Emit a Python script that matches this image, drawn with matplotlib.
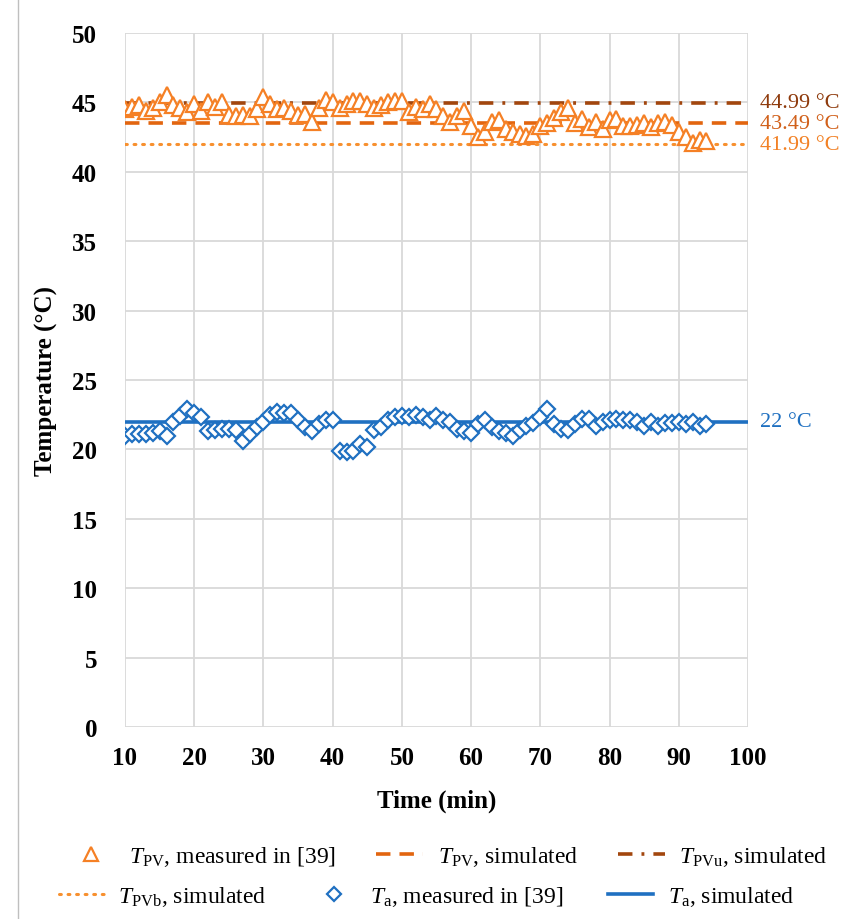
import numpy as np
import matplotlib.pyplot as plt
from matplotlib.lines import Line2D

plt.rcParams['font.family'] = ['Liberation Serif', 'DejaVu Serif']
plt.rcParams['mathtext.fontset'] = 'custom'
plt.rcParams['mathtext.rm'] = 'Liberation Serif'
plt.rcParams['mathtext.it'] = 'Liberation Serif:italic'

# measured data, one point per minute
time = np.arange(10, 95)
t_pv = [44.5, 44.7, 44.8, 44.4, 44.6, 45.0, 45.5, 44.8, 44.6, 44.3,
        44.9, 44.4, 45.0, 44.7, 45.0, 44.1, 44.0, 44.1, 44.0, 44.5,
        45.4, 44.9, 44.5, 44.6, 44.4, 44.1, 44.2, 43.6, 44.6, 45.2,
        45.0, 44.6, 44.9, 45.1, 45.1, 44.9, 44.6, 44.8, 45.0, 45.1,
        45.1, 44.3, 44.7, 44.5, 44.9, 44.5, 44.0, 43.6, 44.0, 44.4,
        43.3, 42.5, 42.9, 43.6, 43.7, 43.1, 42.9, 42.7, 42.6, 42.7,
        43.3, 43.5, 43.9, 44.3, 44.6, 43.5, 43.8, 43.2, 43.6, 43.1,
        43.7, 43.8, 43.3, 43.3, 43.4, 43.5, 43.2, 43.5, 43.6, 43.4,
        42.9, 42.5, 42.1, 42.3, 42.2]
t_a = [21.0, 21.1, 21.1, 21.1, 21.2, 21.3, 21.0, 22.0, 22.4, 22.9,
       22.6, 22.3, 21.3, 21.4, 21.5, 21.5, 21.4, 20.6, 21.1, 21.6,
       22.0, 22.5, 22.7, 22.6, 22.6, 22.1, 21.6, 21.3, 21.8, 22.1,
       22.1, 19.9, 19.8, 19.9, 20.4, 20.2, 21.4, 21.6, 22.1, 22.3,
       22.4, 22.3, 22.5, 22.3, 22.1, 22.4, 22.1, 22.0, 21.5, 21.3,
       21.2, 21.8, 22.1, 21.6, 21.3, 21.2, 21.0, 21.4, 21.7, 21.9,
       22.3, 22.9, 21.8, 21.5, 21.4, 21.8, 22.2, 22.2, 21.7, 22.0,
       22.1, 22.2, 22.1, 22.1, 22.0, 21.7, 22.0, 21.7, 21.9, 21.9,
       22.0, 21.8, 22.0, 21.7, 21.8]

# simulated constant values
sim_time = [10, 100]
sim_pv = 43.49
sim_pvu = 44.99
sim_pvb = 41.99
sim_a = 22.0

c_tri = '#F58025'
c_pv = '#E2650F'
c_pvu = '#A2460E'
c_pvb = '#F7902F'
c_blue = '#1F70C1'

fig = plt.figure(figsize=(8.53, 9.2), dpi=100)
ax = fig.add_axes([125 / 853, 1 - 728 / 920, 623 / 853, 694 / 920])

ls_pv = (0, (4, 2.5))
ls_pvu = (0, (4, 2.5, 0.8, 2.5))
ls_pvb = (0, (0.6, 2.2))

ax.plot(sim_time, [sim_pvb] * 2, color=c_pvb, lw=2.2, ls=ls_pvb,
        dash_capstyle='round', zorder=2)
ax.plot(sim_time, [sim_pv] * 2, color=c_pv, lw=2.6, ls=ls_pv, zorder=2)
ax.plot(sim_time, [sim_pvu] * 2, color=c_pvu, lw=2.6, ls=ls_pvu, zorder=2)
ax.plot(sim_time, [sim_a] * 2, color=c_blue, lw=2.6, zorder=2)

ax.plot(time, t_pv, ls='none', marker='^', ms=11, mfc='white', mec=c_tri, mew=1.6, zorder=3)
ax.plot(time, t_a, ls='none', marker='D', ms=8, mfc='white', mec=c_blue, mew=1.6, zorder=3)

ax.set_xlim(10, 100)
ax.set_ylim(0, 50)
ax.set_xticks(np.arange(10, 101, 10))
ax.set_yticks(np.arange(0, 51, 5))
ax.grid(True, color='#d9d9d9', lw=1.3, zorder=0)
ax.set_axisbelow(True)
for s in ax.spines.values():
    s.set_visible(False)
ax.tick_params(length=0, labelsize=18)
ax.tick_params(axis='y', pad=20)
ax.tick_params(axis='x', pad=14)
for lab in ax.get_xticklabels() + ax.get_yticklabels():
    lab.set_fontweight('bold')
ax.set_xlabel('Time (min)', fontsize=18, fontweight='bold', labelpad=14)
ax.set_ylabel('Temperature (°C)', fontsize=18, fontweight='bold', labelpad=10)

ax.text(101.8, sim_pvu, '44.99 °C', color='#8E3A0C', fontsize=16, va='center')
ax.text(101.8, sim_pv, '43.49 °C', color='#D1601A', fontsize=16, va='center')
ax.text(101.8, sim_pvb, '41.99 °C', color='#F28125', fontsize=16, va='center')
ax.text(101.8, sim_a, '22 °C', color=c_blue, fontsize=16, va='center')

h = [
    Line2D([], [], ls='none', marker='^', ms=10, mfc='white', mec=c_tri, mew=1.6),
    Line2D([], [], color=c_pv, lw=2.6, ls=ls_pv),
    Line2D([], [], color=c_pvu, lw=2.6, ls=ls_pvu),
    Line2D([], [], color=c_pvb, lw=2.2, ls=ls_pvb, dash_capstyle='round'),
    Line2D([], [], ls='none', marker='D', ms=7, mfc='white', mec=c_blue, mew=1.6),
    Line2D([], [], color=c_blue, lw=2.6),
]
labels = [
    r'$T_{\mathrm{PV}}$, measured in [39]',
    r'$T_{\mathrm{PV}}$, simulated',
    r'$T_{\mathrm{PVu}}$, simulated',
    r'$T_{\mathrm{PVb}}$, simulated',
    r'$T_{\mathrm{a}}$, measured in [39]',
    r'$T_{\mathrm{a}}$, simulated',
]
fig.legend(h[:3], labels[:3], ncol=3, loc='center',
           bbox_to_anchor=(0.525, 1 - 857 / 920), frameon=False,
           fontsize=17, handlelength=2.0, columnspacing=1.7, handletextpad=0.6)
fig.legend(h[3:], labels[3:], ncol=3, loc='center',
           bbox_to_anchor=(0.50, 1 - 897 / 920), frameon=False,
           fontsize=17, handlelength=1.9, columnspacing=1.9, handletextpad=0.6)

# chart area border
fig.add_artist(Line2D([18 / 853, 18 / 853], [0, 1], color='#bfbfbf', lw=1))

fig.savefig('out.png', dpi=100)
